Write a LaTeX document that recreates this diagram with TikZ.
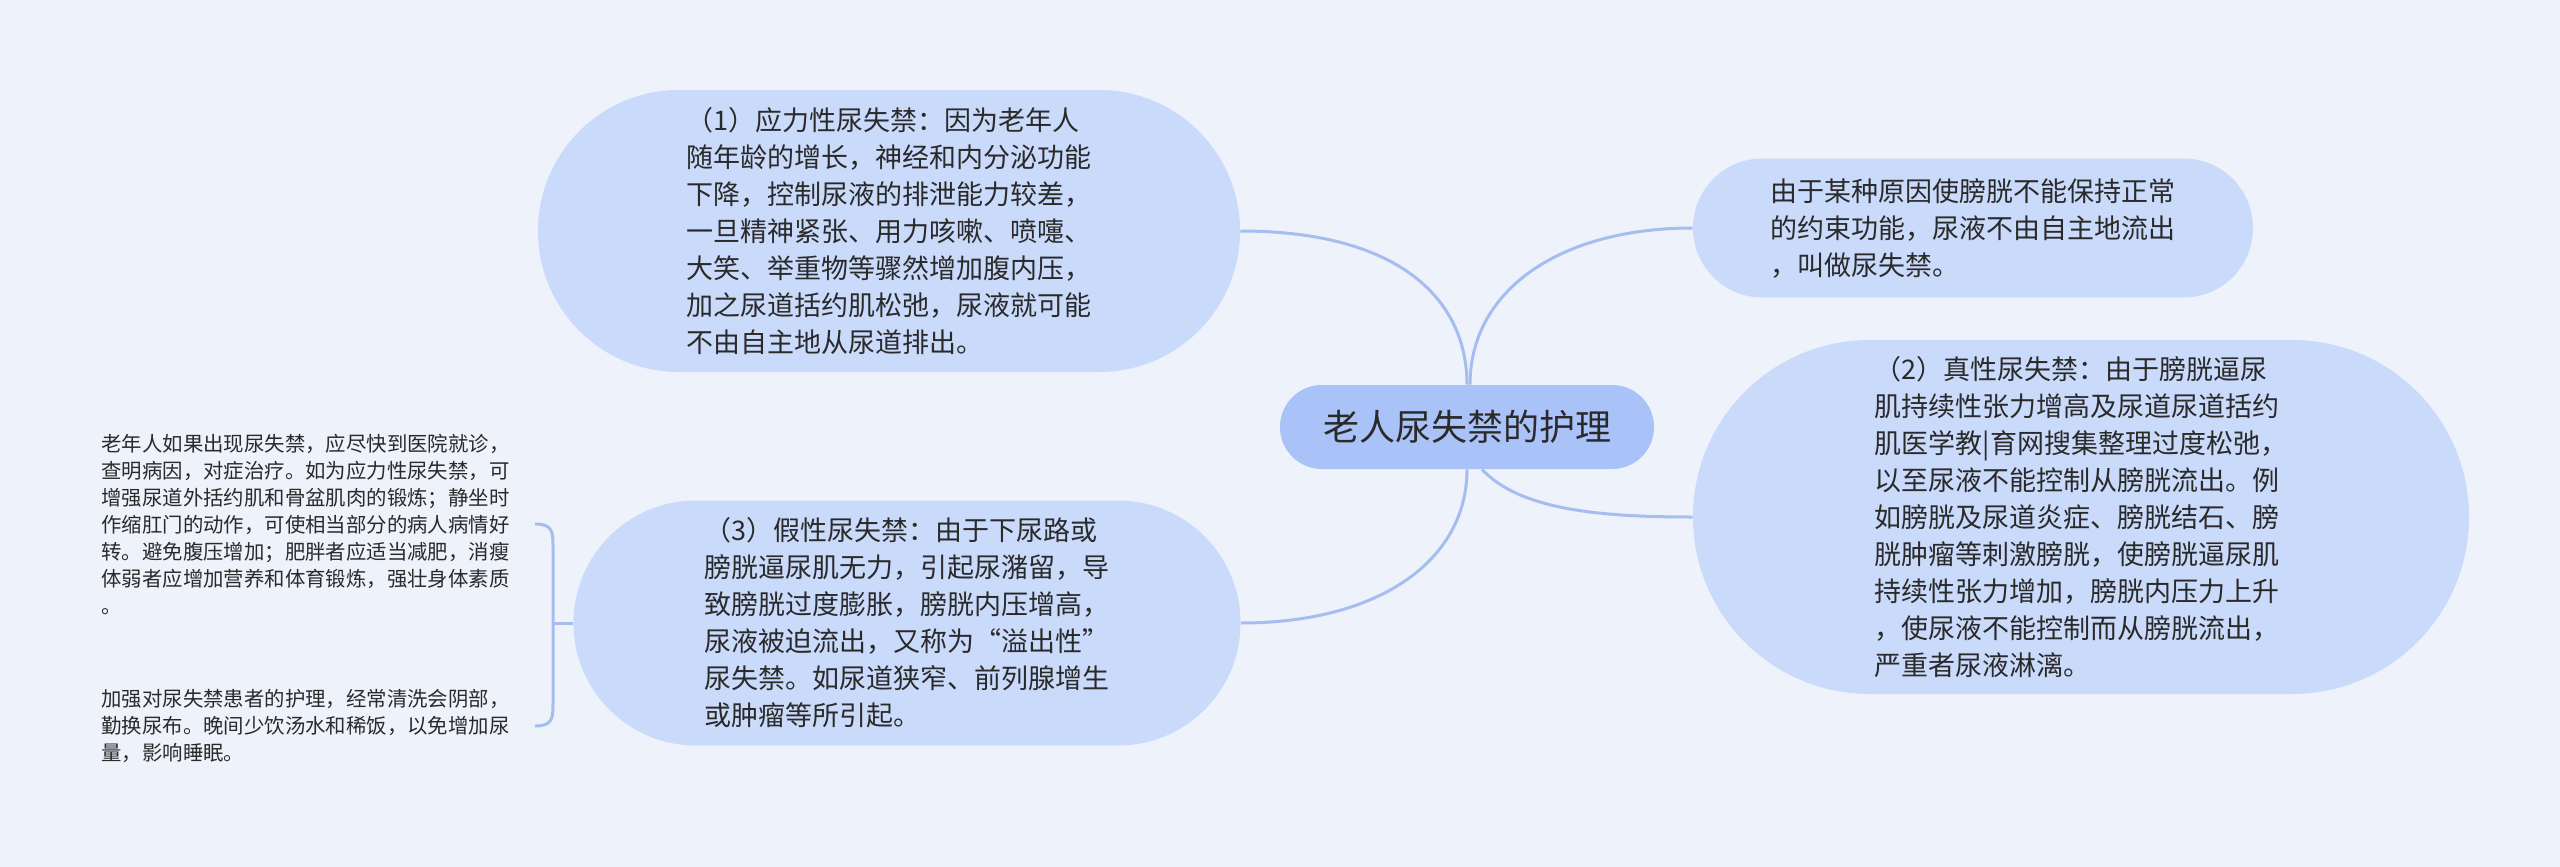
\documentclass[tikz,border=0pt]{standalone}
\usepackage{fontspec}
\setmainfont{Noto Sans CJK SC}
\usetikzlibrary{calc}
\definecolor{bg}{HTML}{EEF2FB}
\definecolor{nodefill}{HTML}{CADAFA}
\definecolor{rootfill}{HTML}{A9C3F8}
\definecolor{linec}{HTML}{A6BDF0}
\definecolor{txt}{HTML}{2A2A2A}
\tikzset{
  bubble/.style={fill=nodefill, draw=none, text=txt, align=left, inner sep=0pt,
    font=\fontsize{13.5pt}{18.5pt}\selectfont},
  rootnode/.style={fill=rootfill, draw=none, text=txt, inner sep=0pt,
    minimum width=187pt, minimum height=42pt, rounded corners=20.9pt,
    font=\fontsize{18pt}{22pt}\selectfont},
  plain/.style={text=txt, align=left, inner sep=0pt, anchor=west,
    font=\fontsize{10.2pt}{13.5pt}\selectfont},
  link/.style={draw=linec, line width=1.5pt}
}
\begin{document}
\begin{tikzpicture}[x=0.5pt,y=-0.5pt]
\fill[bg] (0,0) rectangle (2560,867);
\useasboundingbox (0,0) rectangle (2560,867);

\node[rootnode] (c) at (1467,427) {老人尿失禁的护理};

\node[bubble, minimum width=351pt, minimum height=141pt, rounded corners=70.4pt] (n1) at (889,231) {%
（1）应力性尿失禁：因为老年人\\
随年龄的增长，神经和内分泌功能\\
下降，控制尿液的排泄能力较差，\\
一旦精神紧张、用力咳嗽、喷嚏、\\
大笑、举重物等骤然增加腹内压，\\
加之尿道括约肌松弛，尿液就可能\\
不由自主地从尿道排出。};

\node[bubble, minimum width=333.5pt, minimum height=122.5pt, rounded corners=61.2pt] (n3) at (907,623) {%
（3）假性尿失禁：由于下尿路或\\
膀胱逼尿肌无力，引起尿潴留，导\\
致膀胱过度膨胀，膀胱内压增高，\\
尿液被迫流出，又称为“溢出性”\\
尿失禁。如尿道狭窄、前列腺增生\\
或肿瘤等所引起。};

\node[bubble, minimum width=280pt, minimum height=69.5pt, rounded corners=34.7pt] (d) at (1973,228) {%
由于某种原因使膀胱不能保持正常\\
的约束功能，尿液不由自主地流出\\
，叫做尿失禁。};

\node[bubble, minimum width=388pt, minimum height=177pt, rounded corners=88.4pt] (n2) at (2081,517) {%
（2）真性尿失禁：由于膀胱逼尿\\
肌持续性张力增高及尿道尿道括约\\
肌医学教|育网搜集整理过度松弛，\\
以至尿液不能控制从膀胱流出。例\\
如膀胱及尿道炎症、膀胱结石、膀\\
胱肿瘤等刺激膀胱，使膀胱逼尿肌\\
持续性张力增加，膀胱内压力上升\\
，使尿液不能控制而从膀胱流出，\\
严重者尿液淋漓。};

\node[plain] (t1) at (101,524) {%
老年人如果出现尿失禁，应尽快到医院就诊，\\
查明病因，对症治疗。如为应力性尿失禁，可\\
增强尿道外括约肌和骨盆肌肉的锻炼；静坐时\\
作缩肛门的动作，可使相当部分的病人病情好\\
转。避免腹压增加；肥胖者应适当减肥，消瘦\\
体弱者应增加营养和体育锻炼，强壮身体素质\\
。};

\node[plain] (t2) at (101,726) {%
加强对尿失禁患者的护理，经常清洗会阴部，\\
勤换尿布。晚间少饮汤水和稀饭，以免增加尿\\
量，影响睡眠。};

% connectors from root
\draw[link] (c.north) .. controls (1467,300) and (1400,231) .. (n1.east);
\draw[link] ($(c.north)+(3,0)$) .. controls (1470,290) and (1560,228) .. (d.west);
\draw[link] (c.south) .. controls (1467,560) and (1380,623) .. (n3.east);
\draw[link] ($(c.south)+(15,0)$) .. controls (1520,510) and (1600,517) .. (n2.west);

% bracket
\coordinate (b1) at (535,524);
\coordinate (b2) at (535,726);
\coordinate (bm) at (553,623);
\draw[link] (b1) .. controls (553,524) and (553,532) .. (553,548) -- (553,702)
  .. controls (553,718) and (553,726) .. (b2);
\draw[link] (bm) -- (n3.west);
\end{tikzpicture}
\end{document}
